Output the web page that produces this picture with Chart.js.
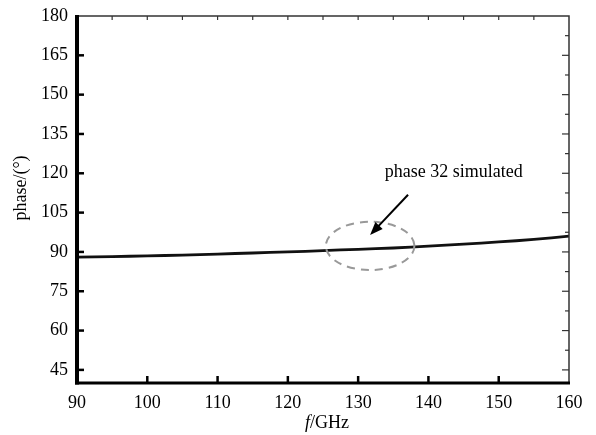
<!DOCTYPE html>
<html lang="en">
<head>
    <meta charset="UTF-8">
    <title>phase vs f</title>
    <script src="https://cdn.jsdelivr.net/npm/chart.js"></script>
    <style>
        body { margin: 0; background: #fff; }
    </style>
</head>
<body>
    <canvas id="grafico" width="596" height="435"></canvas>

    <script>
        // data
        const freqs = [90, 95, 100, 105, 110, 115, 120, 125, 130, 135, 140, 145, 150, 155, 160];
        const phase32 = [88.0, 88.2, 88.5, 88.8, 89.2, 89.6, 90.0, 90.5, 91.0, 91.5, 92.2, 93.0, 93.8, 94.8, 96.0];
        const xTicks = [90, 100, 110, 120, 130, 140, 150, 160];
        const yTicks = [45, 60, 75, 90, 105, 120, 135, 150, 165, 180];
        const noteText = 'phase 32 simulated';

        const FONT = '"Liberation Serif", "Times New Roman", serif';

        // annotation in data units (ellipse, arrow, label)
        const note = {
            ellipse: { x: 131.7, y: 92.3, rx: 6.3, ry: 9.2 },
            arrowFrom: { x: 137.1, y: 111.8 },
            arrowTo: { x: 131.7, y: 96.5 },
            label: { x: 143.6, y: 120.3 }
        };

        const framePlugin = {
            id: 'frame',
            afterDraw(chart) {
                const ctx = chart.ctx;
                const a = chart.chartArea;
                const xs = chart.scales.x, ys = chart.scales.y;
                ctx.save();

                // thin top / right frame
                ctx.strokeStyle = '#333';
                ctx.lineWidth = 1.5;
                ctx.beginPath();
                ctx.moveTo(a.left, a.top);
                ctx.lineTo(a.right, a.top);
                ctx.lineTo(a.right, a.bottom);
                ctx.stroke();

                // top minor ticks every 5
                ctx.lineWidth = 1.2;
                for (let v = 95; v < 160; v += 5) {
                    const px = xs.getPixelForValue(v);
                    ctx.beginPath();
                    ctx.moveTo(px, a.top);
                    ctx.lineTo(px, a.top + 4);
                    ctx.stroke();
                }
                // right ticks every 7.5
                for (let v = 45; v < 180; v += 7.5) {
                    const py = ys.getPixelForValue(v);
                    const len = (v % 15 === 0) ? 7 : 4;
                    ctx.beginPath();
                    ctx.moveTo(a.right, py);
                    ctx.lineTo(a.right - len, py);
                    ctx.stroke();
                }

                // heavy left / bottom axes
                ctx.strokeStyle = '#000';
                ctx.lineWidth = 4;
                ctx.beginPath();
                ctx.moveTo(a.left, a.top - 1);
                ctx.lineTo(a.left, a.bottom + 1.5);
                ctx.stroke();
                ctx.lineWidth = 3;
                ctx.beginPath();
                ctx.moveTo(a.left - 2, a.bottom);
                ctx.lineTo(a.right + 1, a.bottom);
                ctx.stroke();

                ctx.lineWidth = 2.5;
                yTicks.forEach(v => {
                    if (v === 180) return;
                    const py = ys.getPixelForValue(v);
                    ctx.beginPath();
                    ctx.moveTo(a.left, py);
                    ctx.lineTo(a.left + 7, py);
                    ctx.stroke();
                });
                xTicks.forEach(v => {
                    if (v === 90 || v === 160) return;
                    const px = xs.getPixelForValue(v);
                    ctx.beginPath();
                    ctx.moveTo(px, a.bottom);
                    ctx.lineTo(px, a.bottom - 7);
                    ctx.stroke();
                });

                // dashed ellipse
                const e = note.ellipse;
                const cx = xs.getPixelForValue(e.x), cy = ys.getPixelForValue(e.y);
                const rx = Math.abs(xs.getPixelForValue(e.x + e.rx) - cx);
                const ry = Math.abs(ys.getPixelForValue(e.y + e.ry) - cy);
                ctx.strokeStyle = '#999';
                ctx.lineWidth = 2;
                ctx.setLineDash([8, 6]);
                ctx.beginPath();
                ctx.ellipse(cx, cy, rx, ry, 0, 0, Math.PI * 2);
                ctx.stroke();
                ctx.setLineDash([]);

                // arrow
                const x1 = xs.getPixelForValue(note.arrowFrom.x), y1 = ys.getPixelForValue(note.arrowFrom.y);
                const x2 = xs.getPixelForValue(note.arrowTo.x), y2 = ys.getPixelForValue(note.arrowTo.y);
                const ang = Math.atan2(y2 - y1, x2 - x1);
                const hl = 13, hw = 5;
                ctx.strokeStyle = '#000';
                ctx.fillStyle = '#000';
                ctx.lineWidth = 2;
                ctx.beginPath();
                ctx.moveTo(x1, y1);
                ctx.lineTo(x2 - Math.cos(ang) * hl * 0.8, y2 - Math.sin(ang) * hl * 0.8);
                ctx.stroke();
                ctx.beginPath();
                ctx.moveTo(x2, y2);
                ctx.lineTo(x2 - Math.cos(ang) * hl - Math.sin(ang) * hw, y2 - Math.sin(ang) * hl + Math.cos(ang) * hw);
                ctx.lineTo(x2 - Math.cos(ang) * hl + Math.sin(ang) * hw, y2 - Math.sin(ang) * hl - Math.cos(ang) * hw);
                ctx.closePath();
                ctx.fill();

                // label
                ctx.font = '18px ' + FONT;
                ctx.textAlign = 'center';
                ctx.textBaseline = 'middle';
                ctx.fillText(noteText, xs.getPixelForValue(note.label.x), ys.getPixelForValue(note.label.y));

                // x title with italic f
                const tx = (a.left + a.right) / 2 + 4, ty = 423;
                ctx.font = 'italic 18px ' + FONT;
                const wf = ctx.measureText('f').width;
                ctx.font = '18px ' + FONT;
                const wr = ctx.measureText('/GHz').width;
                ctx.textAlign = 'left';
                ctx.font = 'italic 18px ' + FONT;
                ctx.fillText('f', tx - (wf + wr) / 2, ty);
                ctx.font = '18px ' + FONT;
                ctx.fillText('/GHz', tx - (wf + wr) / 2 + wf, ty);

                // y title
                ctx.translate(21, 188);
                ctx.rotate(-Math.PI / 2);
                ctx.textAlign = 'center';
                ctx.fillText('phase/(\u00b0)', 0, 0);

                ctx.restore();
            }
        };

        const ctx = document.getElementById('grafico').getContext('2d');
        new Chart(ctx, {
            type: 'line',
            data: {
                datasets: [{
                    data: freqs.map((f, i) => ({ x: f, y: phase32[i] })),
                    borderColor: '#111',
                    borderWidth: 2.8,
                    pointRadius: 0,
                    tension: 0.4,
                    fill: false
                }]
            },
            options: {
                responsive: false,
                animation: false,
                layout: { padding: { top: 16, right: 27, left: 0, bottom: 0 } },
                plugins: { legend: { display: false }, tooltip: { enabled: false } },
                scales: {
                    x: {
                        type: 'linear',
                        min: 90,
                        max: 160,
                        afterBuildTicks: s => { s.ticks = xTicks.map(v => ({ value: v })); },
                        afterFit: s => { s.height = 52; },
                        grid: { display: false },
                        border: { display: false },
                        ticks: { color: '#000', padding: 1, font: { family: FONT, size: 18 } }
                    },
                    y: {
                        min: 40,
                        max: 180,
                        afterBuildTicks: s => { s.ticks = yTicks.map(v => ({ value: v })); },
                        afterFit: s => { s.width = 77; },
                        grid: { display: false },
                        border: { display: false },
                        ticks: { color: '#000', padding: 1, font: { family: FONT, size: 18 } }
                    }
                }
            },
            plugins: [framePlugin]
        });
    </script>
</body>
</html>
